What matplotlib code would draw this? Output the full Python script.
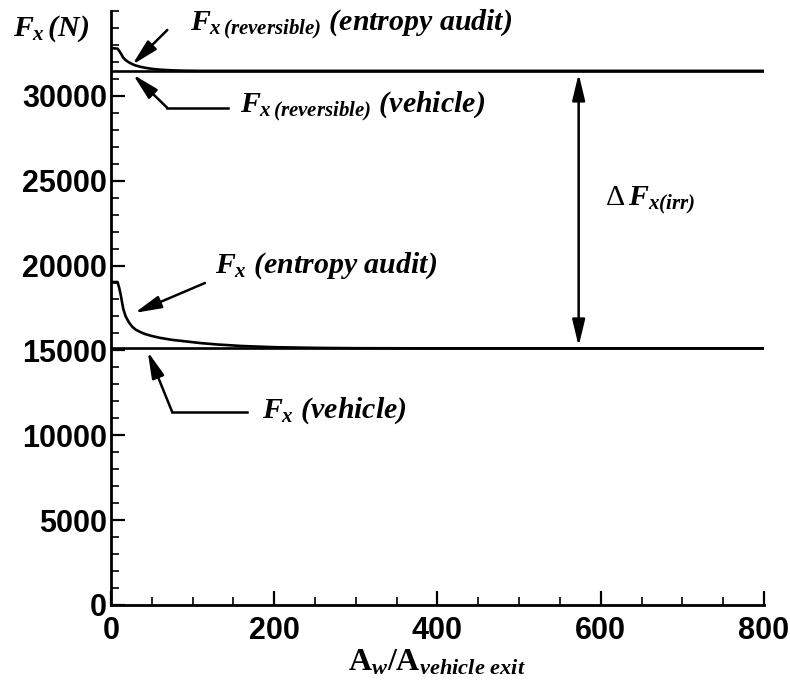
import matplotlib
matplotlib.use("Agg")
import matplotlib.pyplot as plt
from matplotlib.ticker import MultipleLocator

# ---------------- data ----------------
area_ratio = [3, 8, 10, 12, 15, 18, 22, 26, 30, 36, 42, 50, 60, 75, 90, 110,
              130, 160, 200, 250, 300, 400, 500, 600, 700, 800]
fx_entropy_audit = [19030, 19030, 18700, 18250, 17450, 17000, 16650, 16400,
                    16230, 16080, 15960, 15850, 15740, 15620, 15540, 15430,
                    15350, 15260, 15190, 15150, 15130, 15120, 15120, 15120,
                    15120, 15120]
fx_rev_entropy_audit = [32800, 32780, 32650, 32500, 32250, 32100, 31970, 31870,
                        31790, 31710, 31650, 31590, 31540, 31500, 31480, 31470,
                        31470, 31470, 31470, 31470, 31470, 31470, 31470, 31470,
                        31470, 31470]
vehicle_x = [0, 800]
fx_vehicle = [15120, 15120]
fx_rev_vehicle = [31470, 31470]

x_ticks = [0, 200, 400, 600, 800]
y_ticks = [0, 5000, 10000, 15000, 20000, 25000, 30000]

# ---------------- style ----------------
plt.rcParams['mathtext.fontset'] = 'custom'
plt.rcParams['mathtext.it'] = 'Liberation Serif:bold:italic'
plt.rcParams['mathtext.rm'] = 'Liberation Serif:bold:italic'
plt.rcParams['mathtext.bf'] = 'Liberation Serif:bold'
plt.rcParams['mathtext.sf'] = 'Liberation Serif'

fig = plt.figure(figsize=(7.9, 6.85), dpi=100)
fig.patch.set_facecolor('white')
ax = fig.add_axes([0.1405, 0.1168, 0.967 - 0.1405, 0.984 - 0.1168])

lw = 1.9
ax.plot(area_ratio, fx_entropy_audit, color='black', lw=lw)
ax.plot(area_ratio, fx_rev_entropy_audit, color='black', lw=lw)
ax.plot(vehicle_x, fx_vehicle, color='black', lw=lw)
ax.plot(vehicle_x, fx_rev_vehicle, color='black', lw=lw)

ax.set_xlim(0, 800)
ax.set_ylim(0, 35000)
ax.set_xticks(x_ticks)
ax.set_yticks(y_ticks)
ax.xaxis.set_minor_locator(MultipleLocator(50))
ax.yaxis.set_minor_locator(MultipleLocator(1000))
for s in ['top', 'right']:
    ax.spines[s].set_visible(False)
for s in ['left', 'bottom']:
    ax.spines[s].set_linewidth(2.0)
ax.tick_params(which='major', direction='in', length=10, width=1.6)
ax.tick_params(which='minor', direction='in', length=6, width=1.2)
ax.tick_params(axis='x', which='major', pad=8)
ax.tick_params(axis='y', which='major', pad=3)
for lab in ax.get_xticklabels() + ax.get_yticklabels():
    lab.set_fontfamily('Liberation Sans')
    lab.set_fontweight('bold')
    lab.set_fontsize(22)

ax.set_xlabel(r'$\mathbf{A}_{w}\mathbf{/A}_{vehicle\ exit}$', fontsize=23,
              labelpad=0)

tfont = dict(family='Liberation Serif', weight='bold', style='italic',
             fontsize=21.5, color='black')

# y axis label
fig.text(13 / 790, 1 - 36 / 685, r'$F_{x}\,(N)$', ha='left', va='baseline', **tfont)

aprops = dict(arrowstyle='-|>,head_length=1.0,head_width=0.24', color='black',
              lw=1.8, mutation_scale=16, shrinkA=0, shrinkB=0)

# F_x(reversible) (entropy audit)
ax.text(97, 33880, r'$F_{x\,(reversible)}$ (entropy audit)', ha='left',
        va='baseline', **tfont)
ax.annotate('', xy=(26, 31830), xytext=(69, 33880), arrowprops=aprops)

# F_x(reversible) (vehicle)
ax.text(158, 29050, r'$F_{x\,(reversible)}$ (vehicle)', ha='left',
        va='baseline', **tfont)
ax.plot([69, 143], [29290, 29290], color='black', lw=1.8, clip_on=False)
ax.annotate('', xy=(27, 31250), xytext=(69, 29290), arrowprops=aprops)

# F_x (entropy audit)
ax.text(127, 19570, r'$F_{x}$ (entropy audit)', ha='left', va='baseline', **tfont)
ax.annotate('', xy=(29, 17210), xytext=(115, 18970), arrowprops=aprops)

# F_x (vehicle)
ax.text(185, 11020, r'$F_{x}$ (vehicle)', ha='left', va='baseline', **tfont)
ax.plot([75, 167], [11370, 11370], color='black', lw=1.8)
ax.annotate('', xy=(45, 14930), xytext=(75, 11370), arrowprops=aprops)

# Delta F_x(irr)
ax.annotate('', xy=(573, 31300), xytext=(573, 15250),
            arrowprops=dict(arrowstyle='<|-|>,head_length=1.0,head_width=0.24',
                            color='black', lw=1.8, mutation_scale=16,
                            shrinkA=0, shrinkB=0))
ax.text(605, 23560, r'$\mathsf{\Delta}\,F_{x(irr)}$', ha='left', va='baseline', **tfont)

fig.savefig('out.png', dpi=100, facecolor='white')
